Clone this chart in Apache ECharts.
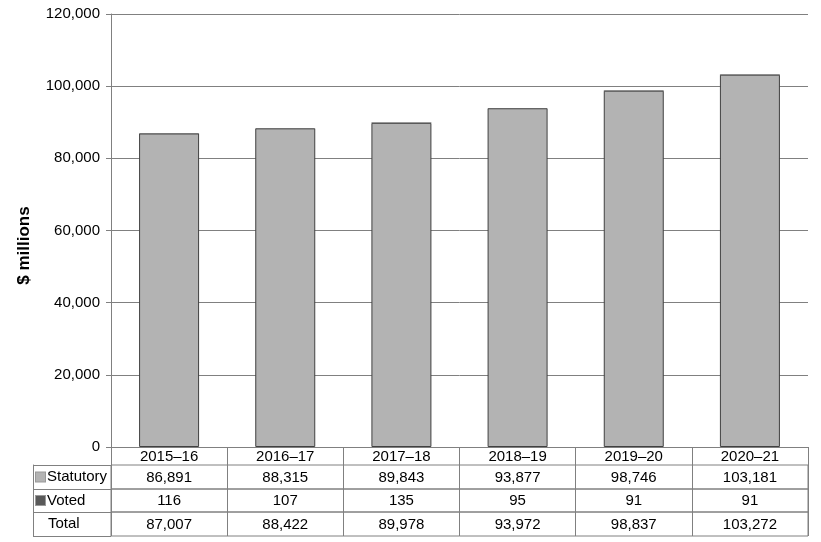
<!DOCTYPE html>
<html>
<head>
<meta charset="utf-8">
<script src="https://cdn.jsdelivr.net/npm/echarts@6/dist/echarts.min.js"></script>
<style>
  html, body { margin: 0; padding: 0; background: #fff; }
  #main { width: 821px; height: 542px; }
</style>
</head>
<body>
<div id="main"></div>
<script>
// data
var categories = ['2015–16', '2016–17', '2017–18', '2018–19', '2019–20', '2020–21'];
var statutory = [86891, 88315, 89843, 93877, 98746, 103181];
var voted = [116, 107, 135, 95, 91, 91];
var totals = [87007, 88422, 89978, 93972, 98837, 103272];
var rowNames = ['Statutory', 'Voted', 'Total'];
var rowValues = [statutory, voted, totals];

var fmt = function (v) { return v.toLocaleString('en-US'); };
var font = 'Liberation Sans, Arial, sans-serif';
var lineCol = '#808080';

// layout of the table under the plot
var plotLeft = 111, plotRight = 13, plotTop = 14, plotBottom = 447;
var catRowH = 18;
var rowTops = [465, 489, 512];
var rowHs = [24, 23, 24];
var headW = 78;

var grids = [{ left: plotLeft, right: plotRight, top: plotTop, height: plotBottom - plotTop }];
var xAxes = [{
  type: 'category',
  data: categories,
  gridIndex: 0,
  axisLine: { lineStyle: { color: lineCol } },
  axisTick: { show: true, length: catRowH, lineStyle: { color: lineCol } },
  axisLabel: { color: '#000', fontSize: 15, fontFamily: font, margin: 2 }
}];
var yAxes = [{
  type: 'value',
  gridIndex: 0,
  min: 0, max: 120000, interval: 20000,
  name: '$ millions',
  nameLocation: 'middle',
  nameGap: 78,
  nameTextStyle: { fontSize: 17, fontWeight: 'bold', color: '#000', fontFamily: font, padding: [0, 30, 0, 0] },
  axisLine: { show: true, lineStyle: { color: lineCol } },
  axisTick: { show: true, length: 5, lineStyle: { color: lineCol } },
  axisLabel: { color: '#000', fontSize: 15, fontFamily: font, margin: 11, formatter: fmt },
  splitLine: { lineStyle: { color: lineCol } }
}];

var icons = { Statutory: '#b3b3b3', Voted: '#595959', Total: null };

rowNames.forEach(function (name, r) {
  var gi = r + 1;
  grids.push({
    left: plotLeft, right: plotRight, top: rowTops[r], height: rowHs[r],
    show: true, borderColor: lineCol, borderWidth: 1
  });
  xAxes.push({
    type: 'category',
    data: categories,
    gridIndex: gi,
    axisLine: { show: false },
    axisTick: { show: false },
    splitLine: { show: true, lineStyle: { color: lineCol } },
    axisLabel: {
      inside: true, margin: 4, color: '#000', fontSize: 15, fontFamily: font,
      formatter: function (v, i) { return fmt(rowValues[r][i]); }
    }
  });
  var col = icons[name];
  yAxes.push({
    type: 'category',
    data: [name],
    gridIndex: gi,
    offset: headW,
    axisLine: { show: true, lineStyle: { color: lineCol } },
    axisTick: { show: true, inside: true, length: headW, lineStyle: { color: lineCol } },
    axisLabel: {
      inside: true, margin: 3, color: '#000', fontSize: 15, fontFamily: font,
      formatter: function (v) { return col ? '{sq|}{gap|}' + v : '{sp|}' + v; },
      rich: {
        sq: { width: 9, height: 9, backgroundColor: col || '#fff', borderColor: '#999', borderWidth: 1 },
        gap: { width: 2, height: 9 },
        sp: { width: 12, height: 9 }
      }
    }
  });
});

var chart = echarts.init(document.getElementById('main'));
chart.setOption({
  animation: false,
  backgroundColor: '#fff',
  grid: grids,
  xAxis: xAxes,
  yAxis: yAxes,
  series: [
    {
      name: 'Statutory', type: 'bar', stack: 'total',
      xAxisIndex: 0, yAxisIndex: 0,
      barWidth: 60,
      data: statutory,
      itemStyle: { color: '#b3b3b3', borderColor: '#404040', borderWidth: 1 }
    },
    {
      name: 'Voted', type: 'bar', stack: 'total',
      xAxisIndex: 0, yAxisIndex: 0,
      barWidth: 60,
      data: voted,
      itemStyle: { color: '#595959', borderWidth: 0 }
    }
  ]
});
</script>
</body>
</html>
